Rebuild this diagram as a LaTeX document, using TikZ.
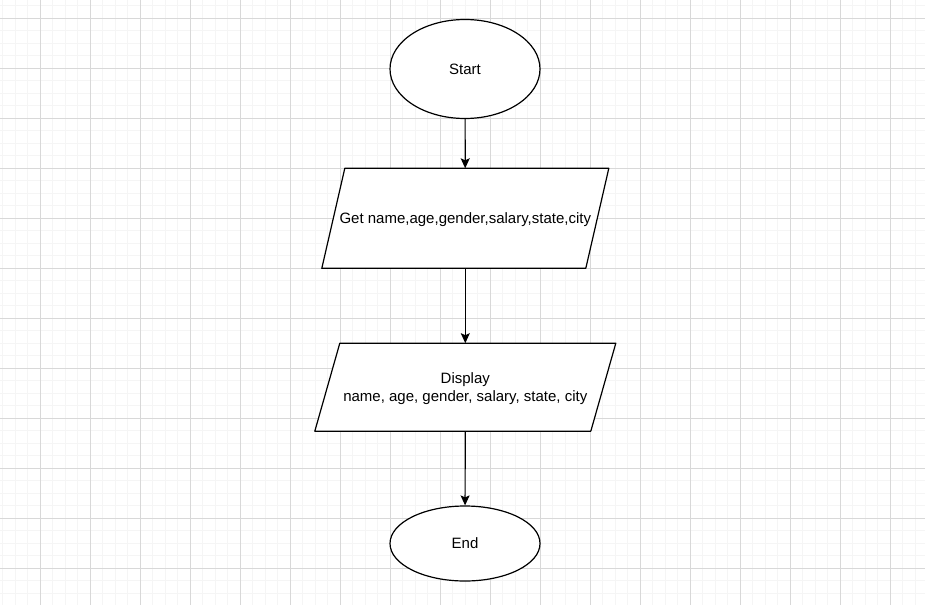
\documentclass[tikz,border=0pt]{standalone}
\usepackage{fontspec}
\setmainfont{Liberation Sans}
\usetikzlibrary{arrows.meta, shapes.geometric}

\definecolor{gridminor}{HTML}{F5F5F5}
\definecolor{gridmajor}{HTML}{D8D8D8}

\pgfdeclarelayer{grid}
\pgfdeclarelayer{shapes}
\pgfsetlayers{grid,shapes,main}

\tikzset{
  terminal/.style={draw, ellipse, line width=1.2pt, fill=white, inner sep=0pt,
    minimum width=150pt, font=\fontsize{15}{18.5}\selectfont},
  iobox/.style={rectangle, inner sep=0pt, outer sep=0pt, align=center,
    text depth=0pt, font=\fontsize{15}{18.5}\selectfont},
  ioline/.style={draw, fill=white, line width=1.2pt, line join=round},
  flow/.style={line width=1.2pt, arrows={-Stealth[length=10pt, width=9pt, inset=2pt]}}
}

\begin{document}
\begin{tikzpicture}[x=1pt, y=-1pt]
  \useasboundingbox (0, 0) rectangle (925, 605);

  % Draw grid.
  \begin{pgfonlayer}{grid}
    \foreach \x in {2.5, 15, ..., 925} \draw [gridminor, line width=0.8pt] (\x, 0) -- (\x, 605);
    \foreach \y in {5.8, 18.3, ..., 605} \draw [gridminor, line width=0.8pt] (0, \y) -- (925, \y);
    \foreach \x in {40, 90, ..., 925} \draw [gridmajor, line width=0.9pt] (\x, 0) -- (\x, 605);
    \foreach \y in {18.3, 68.3, ..., 605} \draw [gridmajor, line width=0.9pt] (0, \y) -- (925, \y);
  \end{pgfonlayer}

  % Draw flowchart nodes.
  \node [terminal, minimum height=99pt] (start) at (465, 69) {Start};
  \node [iobox, minimum width=264pt, minimum height=100pt] (input) at (465.3, 218.3)
    {Get name,age,gender,salary,state,city};
  \node [iobox, minimum width=276pt, minimum height=88pt] (output) at (465.3, 387.2)
    {Display\\name, age, gender, salary, state, city};
  \node [terminal, minimum height=75pt] (end) at (465, 543.5) {End};

  % Draw parallelograms behind input and output.
  \begin{pgfonlayer}{shapes}
    \foreach \n/\s in {input/11.5, output/12.5}
      \draw [ioline] ([xshift=\s pt]\n.north west) -- ([xshift=\s pt]\n.north east)
        -- ([xshift=-\s pt]\n.south east) -- ([xshift=-\s pt]\n.south west) -- cycle;
  \end{pgfonlayer}

  % Draw connectors.
  \draw [flow] (start) -- (input);
  \draw [flow] (input) -- (output);
  \draw [flow] (output) -- (end);
\end{tikzpicture}
\end{document}
